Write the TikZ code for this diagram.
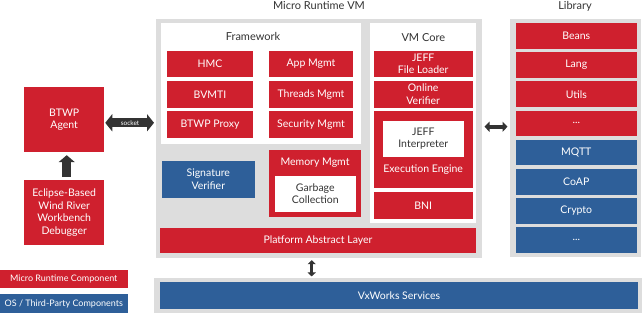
\documentclass[tikz,border=0pt]{standalone}
\usepackage{fontspec}
\setmainfont{Lato}
\usetikzlibrary{arrows.meta}
\definecolor{mrred}{RGB}{207,32,46}
\definecolor{osblue}{RGB}{46,95,153}
\definecolor{panelgray}{RGB}{221,221,221}
\definecolor{inkgray}{RGB}{51,51,51}
\tikzset{
  arch/.style={x=1pt, y=-1pt},
  wh/.style 2 args={minimum width=#1, minimum height=#2},
  panel/.style={fill=panelgray, inner sep=0pt},
  sheet/.style={fill=white, inner sep=0pt},
  mblock/.style={fill=mrred, text=white, inner sep=0pt, align=center,
    font=\fontsize{10.5}{12.5}\selectfont},
  oblock/.style={mblock, fill=osblue},
  wblock/.style={mblock, fill=white, text=inkgray},
  ptitle/.style={text=inkgray, inner sep=0pt, font=\fontsize{11}{12}\selectfont},
  legend/.style={mblock, font=\fontsize{9}{10}\selectfont},
  fatlink/.style={draw=inkgray, line width=#1},
}

\begin{document}
\begin{tikzpicture}[arch]
  \useasboundingbox (0,0) rectangle (644,315);
  % Micro Runtime VM panel
  \node[ptitle] (vmtitle) at (319,6) {Micro Runtime VM};
  \node[panel, wh={326.6}{239}] (vm) at (319,138.5) {};
  % Framework
  \node[sheet, wh={200}{121.8}] (fw) at (261,83.6) {};
  \node[ptitle] (fwtitle) at (253,36) {Framework};
  \node[mblock, wh={85.7}{26.6}] (hmc) at (210,64) {HMC};
  \node[mblock, wh={85.7}{26.6}] (bvmti) at (210,94.3) {BVMTI};
  \node[mblock, wh={85.7}{26.6}] (proxy) at (210,124.5) {BTWP Proxy};
  \node[mblock, wh={84.6}{26.6}] (appm) at (311,64) {App Mgmt};
  \node[mblock, wh={84.6}{26.6}] (thrm) at (311,94.3) {Threads Mgmt};
  \node[mblock, wh={84.6}{26.6}] (secm) at (311,124.5) {Security Mgmt};
  % VM Core
  \node[sheet, wh={106}{200.6}] (core) at (423,123) {};
  \node[ptitle] (coretitle) at (423.3,37.7) {VM Core};
  \node[mblock, wh={99}{26.6}] (loader) at (423.2,64) {JEFF\\File Loader};
  \node[mblock, wh={99}{26.6}] (online) at (423.2,94.3) {Online\\Verifier};
  \node[mblock, wh={99}{77}] (exec) at (423.2,149.8) {};
  \node[wblock, wh={81.3}{36}] (interp) at (423.3,138.7) {JEFF\\Interpreter};
  \node[mblock, fill=none] (exectxt) at (423.2,169.7) {Execution Engine};
  \node[mblock, wh={99}{27}] (bni) at (423.2,205.5) {BNI};
  % lower part of the VM
  \node[oblock, wh={93.3}{36.7}] (sigver) at (208.3,179.3) {Signature\\Verifier};
  \node[mblock, wh={91.4}{67.3}] (memm) at (315,183.7) {};
  \node[mblock, fill=none] (memtxt) at (315,162.3) {Memory Mgmt};
  \node[wblock, wh={80.7}{36}] (gc) at (315.3,193.7) {Garbage\\Collection};
  \node[mblock, wh={316}{25}] (pal) at (318,240.2) {Platform Abstract Layer};
  % Library
  \node[ptitle] (libtitle) at (575,6) {Library};
  \node[panel, wh={131}{238.5}] (lib) at (575.8,138.2) {};
  \node[mblock, wh={120.7}{25.7}] (beans) at (576.3,35.8) {Beans};
  \node[mblock, wh={120.7}{25.7}] (lang) at (576.3,65) {Lang};
  \node[mblock, wh={120.7}{25.7}] (utils) at (576.3,94.2) {Utils};
  \node[mblock, wh={120.7}{25.7}] (moreA) at (576.3,123.4) {...};
  \node[oblock, wh={120.7}{25.7}] (mqtt) at (576.3,152.6) {MQTT};
  \node[oblock, wh={120.7}{25.7}] (coap) at (576.3,181.8) {CoAP};
  \node[oblock, wh={120.7}{25.7}] (crypto) at (576.3,211) {Crypto};
  \node[oblock, wh={120.7}{25.7}] (moreB) at (576.3,240.2) {...};
  % VxWorks
  \node[panel, wh={487.7}{35.3}] (vxpanel) at (397.8,295.3) {};
  \node[oblock, wh={477.4}{27}] (vxw) at (399,295.8) {VxWorks Services};
  % debugger side
  \node[mblock, wh={80.3}{65}] (agent) at (64.2,119.8) {BTWP\\Agent};
  \node[mblock, wh={80.3}{65}] (eclipse) at (64.2,212.5)
    {Eclipse-Based\\Wind River\\Workbench\\Debugger};
  % legend
  \node[legend, wh={127.7}{17.7}] (legM) at (63.8,278.8) {Micro Runtime Component};
  \node[legend, fill=osblue, wh={127.7}{19}] (legO) at (63.8,303.8)
    {OS / Third-Party Components};
  % links
  \coordinate (sockL) at ([yshift=-3pt]agent.east);
  \draw[fatlink=9pt, {Triangle[width=17pt,length=7pt]}-{Triangle[width=17pt,length=7pt]},
    shorten <=0.7pt, shorten >=1.5pt] (sockL) -- (sockL -| vm.west)
    node[midway, text=white, font=\fontsize{6.5}{7}\selectfont, inner sep=0pt] {socket};
  \coordinate (libL) at ([yshift=11.8pt]vm.east);
  \draw[fatlink=4pt, {Triangle[width=10pt,length=5pt]}-{Triangle[width=10pt,length=5pt]},
    shorten <=2pt, shorten >=2.6pt] (libL) -- (libL -| lib.west);
  \draw[fatlink=9pt, -{Triangle[width=16pt,length=7pt]},
    shorten <=2.7pt, shorten >=2.7pt]
    ([xshift=2.5pt]eclipse.north) -- ([xshift=2.5pt]agent.south);
  \draw[fatlink=3pt, {Triangle[width=8pt,length=4pt]}-{Triangle[width=8pt,length=4pt]},
    shorten <=2pt, shorten >=1pt]
    ([xshift=-7.3pt]vm.south) -- ([xshift=-7.3pt]vm.south |- vxpanel.north);
\end{tikzpicture}
\end{document}
